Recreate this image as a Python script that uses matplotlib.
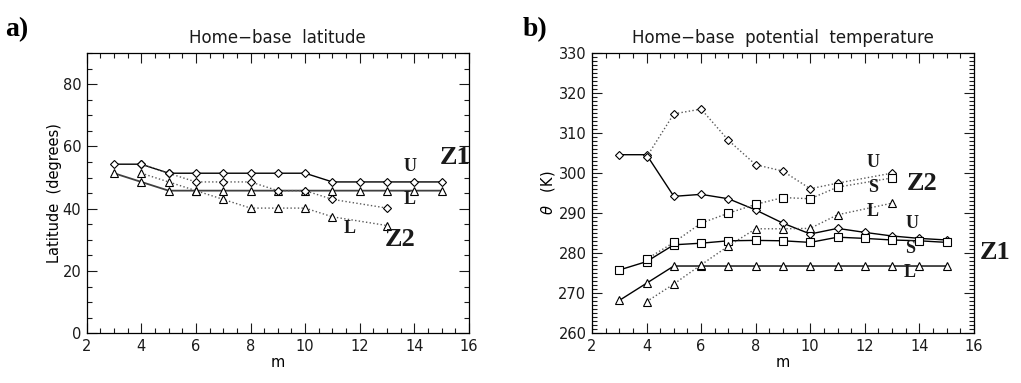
import matplotlib.pyplot as plt
import numpy as np

# data
m_z1 = [3, 4, 5, 6, 7, 8, 9, 10, 11, 12, 13, 14, 15]
m_z2 = [4, 5, 6, 7, 8, 9, 10, 11, 13]

lat_z1_u = [54.3, 54.3, 51.4, 51.4, 51.4, 51.4, 51.4, 51.4, 48.6, 48.6, 48.6, 48.6, 48.6]
lat_z1_l = [51.4, 48.6, 45.8, 45.8, 45.8, 45.8, 45.8, 45.8, 45.8, 45.8, 45.8, 45.8, 45.8]
lat_z2_u = [54.3, 51.4, 48.6, 48.6, 48.6, 45.8, 45.8, 43.0, 40.2]
lat_z2_l = [51.4, 48.6, 45.8, 43.0, 40.2, 40.2, 40.2, 37.4, 34.6]

th_z1_u = [304.6, 304.6, 294.2, 294.7, 293.6, 290.8, 287.5, 284.8, 286.2, 285.2, 284.3, 283.7, 283.3]
th_z1_s = [275.8, 277.9, 282.1, 282.5, 283.1, 283.2, 283.1, 282.7, 284.0, 283.7, 283.3, 283.1, 282.7]
th_z1_l = [268.2, 272.5, 276.8, 276.8, 276.8, 276.8, 276.8, 276.8, 276.8, 276.8, 276.8, 276.8, 276.8]
th_z2_u = [304.0, 314.8, 316.0, 308.2, 302.1, 300.5, 296.1, 297.5, 300.0]
th_z2_s = [278.5, 282.7, 287.5, 290.0, 292.2, 293.9, 293.6, 296.5, 298.8]
th_z2_l = [267.9, 272.3, 277.1, 281.8, 286.1, 286.1, 286.2, 289.6, 292.5]

labfont = 'Liberation Serif'
dotcol = '0.35'
plt.rcParams['text.color'] = '0.1'
plt.rcParams['xtick.color'] = '0.1'
plt.rcParams['ytick.color'] = '0.1'

fig = plt.figure(figsize=(10.21, 3.83), dpi=100)
ax1 = fig.add_axes([0.0849, 0.1298, 0.3744, 0.7318])
ax2 = fig.add_axes([0.5798, 0.1298, 0.3741, 0.7318])

def style(ax):
    ax.tick_params(which='both', direction='in', top=True, right=True, labelsize=10.5)
    ax.tick_params(which='major', length=7, width=0.8)
    ax.tick_params(which='minor', length=3.5, width=0.8)
    ax.tick_params(axis='x', pad=4)
    ax.tick_params(axis='y', pad=4)
    for s in ax.spines.values():
        s.set_linewidth(0.9)
    ax.set_xlim(2, 16)
    ax.set_xticks(np.arange(2, 17, 2))
    ax.set_xticks(np.arange(2, 16.1, 0.5), minor=True)
    ax.set_xlabel('m', fontsize=10.5, labelpad=1)

# panel a
ax1.plot(m_z1, lat_z1_u, '-', color='k', lw=1, marker='D', ms=4.5, mfc='white', mec='k', mew=0.8)
ax1.plot(m_z1, lat_z1_l, '-', color='0.25', lw=1.3, marker='^', ms=6, mfc='white', mec='k', mew=0.8)
ax1.plot(m_z2, lat_z2_u, ':', color=dotcol, lw=1, marker='D', ms=4.5, mfc='white', mec='k', mew=0.8)
ax1.plot(m_z2, lat_z2_l, ':', color=dotcol, lw=1, marker='^', ms=6, mfc='white', mec='k', mew=0.8)
style(ax1)
ax1.set_ylim(0, 90)
ax1.set_yticks([0, 20, 40, 60, 80])
ax1.set_yticks(np.arange(0, 91, 5), minor=True)
ax1.set_ylabel('Latitude  (degrees)', fontsize=10.5, labelpad=0)
ax1.set_title('Home\u2212base  latitude', fontsize=12, pad=7)

ax1.text(13.84, 53.4, 'U', fontsize=13, fontweight='bold', family=labfont, ha='center', va='center')
ax1.text(13.84, 43.1, 'L', fontsize=13, fontweight='bold', family=labfont, ha='center', va='center')
ax1.text(11.64, 33.8, 'L', fontsize=13, fontweight='bold', family=labfont, ha='center', va='center')
ax1.text(15.5, 56.3, 'Z1', fontsize=19, fontweight='bold', family=labfont, ha='center', va='center', clip_on=False)
ax1.text(13.47, 30.0, 'Z2', fontsize=19, fontweight='bold', family=labfont, ha='center', va='center')

# panel b
ax2.plot(m_z1, th_z1_u, '-', color='k', lw=1, marker='D', ms=4.5, mfc='white', mec='k', mew=0.8)
ax2.plot(m_z1, th_z1_s, '-', color='k', lw=1, marker='s', ms=6, mfc='white', mec='k', mew=0.8)
ax2.plot(m_z1, th_z1_l, '-', color='k', lw=1, marker='^', ms=6, mfc='white', mec='k', mew=0.8)
ax2.plot(m_z2, th_z2_u, ':', color=dotcol, lw=1, marker='D', ms=4.5, mfc='white', mec='k', mew=0.8)
ax2.plot(m_z2, th_z2_s, ':', color=dotcol, lw=1, marker='s', ms=6, mfc='white', mec='k', mew=0.8)
ax2.plot(m_z2, th_z2_l, ':', color=dotcol, lw=1, marker='^', ms=6, mfc='white', mec='k', mew=0.8)
style(ax2)
ax2.set_ylim(260, 330)
ax2.set_yticks(np.arange(260, 331, 10))
ax2.set_yticks(np.arange(260, 331, 1), minor=True)
ax2.set_ylabel(r'$\theta$   (K)', fontsize=10.5, labelpad=1)
ax2.set_title('Home\u2212base  potential  temperature', fontsize=12, pad=7)

for x, y, s in [(12.29, 302.6, 'U'), (12.29, 296.3, 'S'), (12.29, 290.3, 'L'),
                (13.72, 287.3, 'U'), (13.65, 281.3, 'S'), (13.65, 275.1, 'L')]:
    ax2.text(x, y, s, fontsize=13, fontweight='bold', family=labfont, ha='center', va='center')
ax2.text(14.09, 297.3, 'Z2', fontsize=19, fontweight='bold', family=labfont, ha='center', va='center')
ax2.text(16.76, 280.3, 'Z1', fontsize=19, fontweight='bold', family=labfont, ha='center', va='center', clip_on=False)

fig.text(0.005, 0.905, 'a)', fontsize=20, fontweight='bold', family=labfont, color='k')
fig.text(0.512, 0.905, 'b)', fontsize=20, fontweight='bold', family=labfont, color='k')

plt.savefig('out.png', dpi=100)
